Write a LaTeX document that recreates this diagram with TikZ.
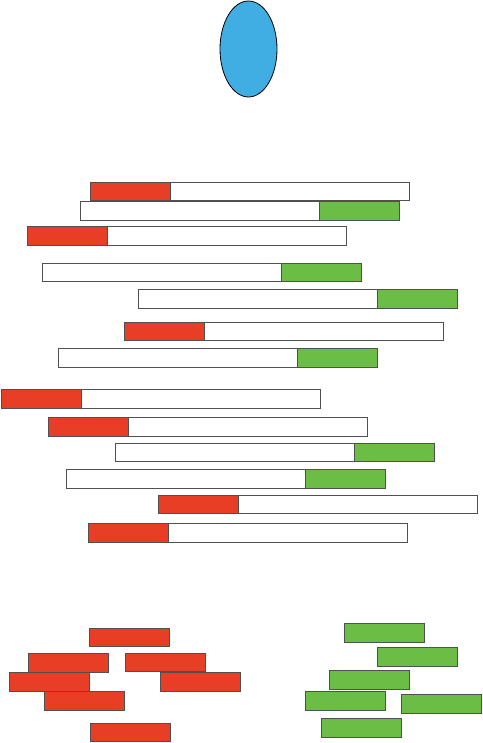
\documentclass[tikz,border=0pt]{standalone}
\usetikzlibrary{shapes.geometric}
\definecolor{myred}{HTML}{E83E25}
\definecolor{mygreen}{HTML}{6BBD45}
\definecolor{myblue}{HTML}{41AEE3}
\definecolor{edgegray}{HTML}{505050}
\begin{document}
\begin{tikzpicture}[x=1pt,y=-1pt,
  box/.style={draw=edgegray, line width=0.9pt, inner sep=0pt, outer sep=0pt, anchor=north west, minimum height=18.7pt},
  longbar/.style={box, fill=white, minimum width=319pt},
  redpart/.style={box, fill=myred, minimum width=80pt},
  greenpart/.style={box, fill=mygreen, minimum width=80pt},
  cell/.style={draw=black, line width=0.8pt, fill=myblue, ellipse, inner sep=0pt, minimum width=57pt, minimum height=96pt}]
\useasboundingbox (0,0) rectangle (482,743);
\node[cell] (cell) at (248.5,49) {};
% reads
\node[longbar] (b1) at (90,182) {};
\node[redpart] (b1c) at (90,182) {};
\node[longbar] (b2) at (80,201.5) {};
\node[greenpart] (b2c) at (319,201.5) {};
\node[longbar] (b3) at (27.7,226.7) {};
\node[redpart] (b3c) at (27.7,226.7) {};
\node[longbar] (b4) at (42.7,263) {};
\node[greenpart] (b4c) at (281.7,263) {};
\node[longbar] (b5) at (138,289.7) {};
\node[greenpart] (b5c) at (377,289.7) {};
\node[longbar] (b6) at (124,322) {};
\node[redpart] (b6c) at (124,322) {};
\node[longbar] (b7) at (58.3,348.3) {};
\node[greenpart] (b7c) at (297.3,348.3) {};
\node[longbar] (b8) at (1.3,389.3) {};
\node[redpart] (b8c) at (1.3,389.3) {};
\node[longbar] (b9) at (48.7,417.7) {};
\node[redpart] (b9c) at (48.7,417.7) {};
\node[longbar] (b10) at (115,443) {};
\node[greenpart] (b10c) at (354,443) {};
\node[longbar] (b11) at (66,469.7) {};
\node[greenpart] (b11c) at (305,469.7) {};
\node[longbar] (b12) at (158.3,495) {};
\node[redpart] (b12c) at (158.3,495) {};
\node[longbar] (b13) at (88.7,523.3) {};
\node[redpart] (b13c) at (88.7,523.3) {};
% red fragments
\node[redpart] (r1) at (89,628) {};
\node[redpart] (r2) at (28.3,653.7) {};
\node[redpart] (r3) at (125,653) {};
\node[redpart] (r4) at (9,672.5) {};
\node[redpart] (r5) at (160.3,672.5) {};
\node[redpart] (r6) at (44.7,691.3) {};
\node[redpart] (r7) at (90.3,723) {};
% green fragments
\node[greenpart] (g1) at (344.3,623.5) {};
\node[greenpart] (g2) at (377.7,647.3) {};
\node[greenpart] (g3) at (329,670.3) {};
\node[greenpart] (g4) at (305.7,691.5) {};
\node[greenpart] (g5) at (401,694.3) {};
\node[greenpart] (g6) at (321,718.5) {};
\end{tikzpicture}
\end{document}
